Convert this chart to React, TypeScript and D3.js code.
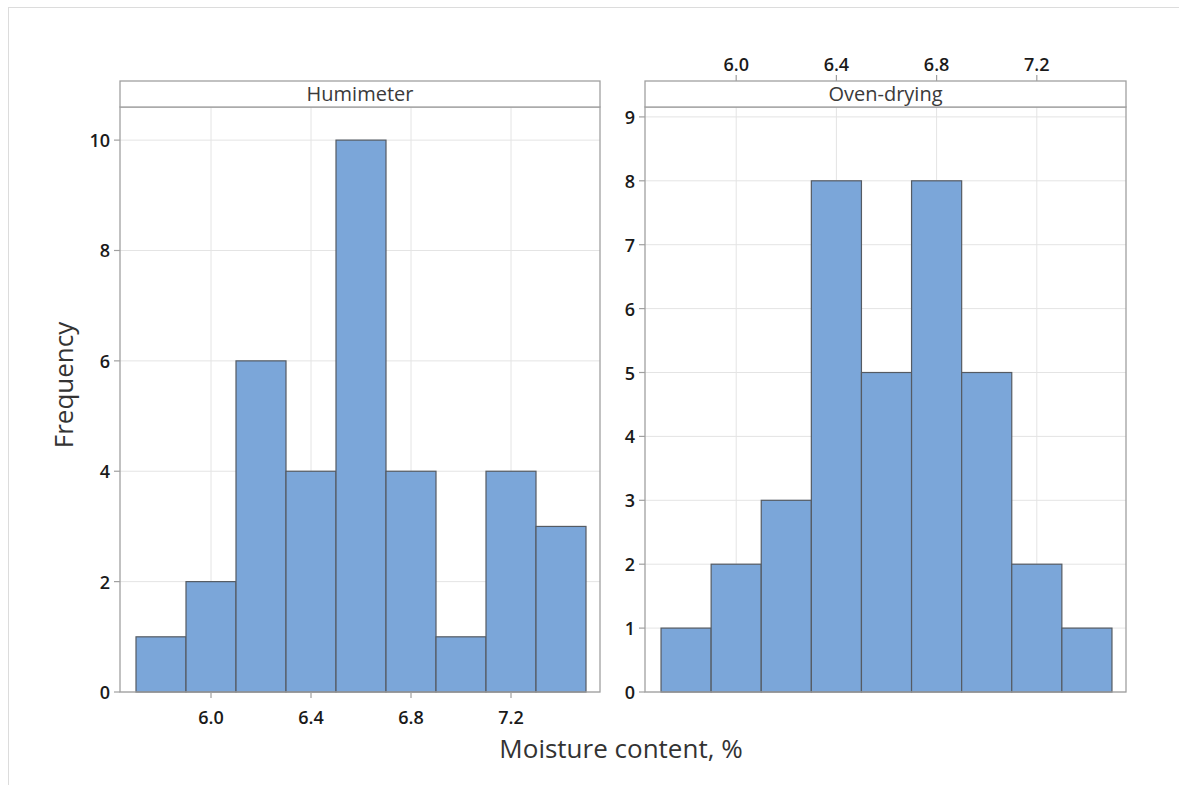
import React from "react";
import * as d3 from "d3";

const binEdges = [5.7, 5.9, 6.1, 6.3, 6.5, 6.7, 6.9, 7.1, 7.3, 7.5];
const humimeterCounts = [1, 2, 6, 4, 10, 4, 1, 4, 3];
const ovenCounts = [1, 2, 3, 8, 5, 8, 5, 2, 1];
const xTicks = [6.0, 6.4, 6.8, 7.2];
const humimeterYTicks = [0, 2, 4, 6, 8, 10];
const ovenYTicks = [0, 1, 2, 3, 4, 5, 6, 7, 8, 9];
const panelTitles = ["Humimeter", "Oven-drying"];
const xLabel = "Moisture content, %";
const yLabel = "Frequency";

const FONT = "'Open Sans', 'Noto Sans', sans-serif";
const W = 1179, H = 785;
const plotTop = 107, plotBottom = 692, headerTop = 81;

type PanelProps = {
  x0: number; x1: number; counts: number[]; yTicks: number[]; yMax: number;
  title: string; xAxisPos: "bottom" | "top";
};

function Panel({ x0, x1, counts, yTicks, yMax, title, xAxisPos }: PanelProps) {
  const x = d3.scaleLinear().domain([5.636, 7.556]).range([x0, x1]);
  const y = d3.scaleLinear().domain([0, yMax]).range([plotBottom, plotTop]);
  const frame = "#a0a0a0";
  return (
    <g>
      {xTicks.map((t) => (
        <line key={"gx" + t} x1={x(t)} x2={x(t)} y1={plotTop} y2={plotBottom} stroke="#e4e4e4" strokeWidth={1} />
      ))}
      {yTicks.map((t) => (
        <line key={"gy" + t} x1={x0} x2={x1} y1={y(t)} y2={y(t)} stroke="#e4e4e4" strokeWidth={1} />
      ))}
      {counts.map((c, i) => (
        <rect key={i} x={x(binEdges[i])} y={y(c)} width={x(binEdges[i + 1]) - x(binEdges[i])} height={y(0) - y(c)}
          fill="#7ba6d9" stroke="#555b63" strokeWidth={1.2} />
      ))}
      <rect x={x0} y={plotTop} width={x1 - x0} height={plotBottom - plotTop} fill="none" stroke={frame} strokeWidth={1.3} />
      <rect x={x0} y={headerTop} width={x1 - x0} height={plotTop - headerTop} fill="white" stroke={frame} strokeWidth={1.3} />
      <text x={(x0 + x1) / 2} y={(headerTop + plotTop) / 2 + 2} textAnchor="middle" dominantBaseline="middle"
        fontFamily={FONT} fontSize={20} fill="#3a3a3a">{title}</text>
      {yTicks.map((t) => (
        <g key={"yt" + t}>
          <line x1={x0 - 6} x2={x0} y1={y(t)} y2={y(t)} stroke={frame} strokeWidth={1.2} />
          <text x={x0 - 10} y={y(t)} textAnchor="end" dominantBaseline="central" fontFamily={FONT}
            fontSize={18} fontWeight={600} fill="#1a1a1a">{t}</text>
        </g>
      ))}
      {xTicks.map((t) => (
        xAxisPos === "bottom" ? (
          <g key={"xt" + t}>
            <line x1={x(t)} x2={x(t)} y1={plotBottom} y2={plotBottom + 6} stroke={frame} strokeWidth={1.2} />
            <text x={x(t)} y={plotBottom + 25} textAnchor="middle" dominantBaseline="central" fontFamily={FONT}
              fontSize={18} fontWeight={600} fill="#1a1a1a">{t.toFixed(1)}</text>
          </g>
        ) : (
          <g key={"xt" + t}>
            <line x1={x(t)} x2={x(t)} y1={headerTop} y2={headerTop - 6} stroke={frame} strokeWidth={1.2} />
            <text x={x(t)} y={headerTop - 17} textAnchor="middle" dominantBaseline="central" fontFamily={FONT}
              fontSize={18} fontWeight={600} fill="#1a1a1a">{t.toFixed(1)}</text>
          </g>
        )
      ))}
    </g>
  );
}

export default function App() {
  return (
    <svg width={W} height={H} style={{ position: "absolute", left: 0, top: 0, display: "block" }}>
      <rect x={0} y={0} width={W} height={H} fill="white" />
      <rect x={8.5} y={7.5} width={W} height={H} fill="none" stroke="#dcdcdc" strokeWidth={1} />
      <Panel x0={120} x1={600} counts={humimeterCounts} yTicks={humimeterYTicks} yMax={10.6}
        title={panelTitles[0]} xAxisPos="bottom" />
      <Panel x0={645} x1={1126} counts={ovenCounts} yTicks={ovenYTicks} yMax={9.155}
        title={panelTitles[1]} xAxisPos="top" />
      <text x={621} y={748} textAnchor="middle" dominantBaseline="central" fontFamily={FONT} fontSize={26}
        fontWeight={500} fill="#333">{xLabel}</text>
      <text transform="translate(63,385) rotate(-90)" textAnchor="middle" dominantBaseline="central"
        fontFamily={FONT} fontSize={26} fontWeight={500} fill="#333">{yLabel}</text>
    </svg>
  );
}
